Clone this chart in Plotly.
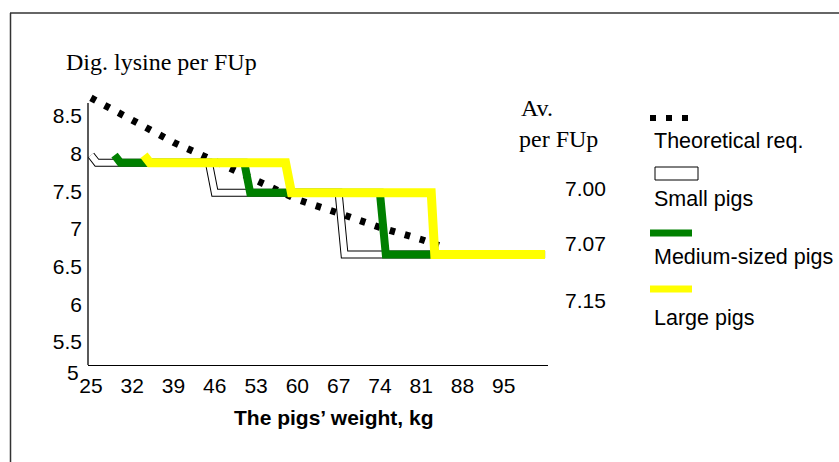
import plotly.graph_objects as go

# ---------------- data ----------------
theory_kg = [25, 32, 39, 46, 53, 60, 67, 74, 81, 84]
theory_val = [8.74, 8.44, 8.15, 7.90, 7.64, 7.39, 7.21, 7.02, 6.86, 6.78]

small_kg = [25, 26, 45, 46, 67, 68, 102]
small_val = [7.98, 7.88, 7.88, 7.48, 7.48, 6.66, 6.66]

medium_kg = [29, 30, 51, 52, 74, 75, 102]
medium_val = [7.98, 7.88, 7.88, 7.48, 7.48, 6.66, 6.66]

large_kg = [34, 35, 58, 59, 82.7, 83.3, 102]
large_val = [7.98, 7.88, 7.88, 7.48, 7.48, 6.66, 6.66]

x_ticks = [25, 32, 39, 46, 53, 60, 67, 74, 81, 88, 95]
y_ticks = [5.5, 6, 6.5, 7, 7.5, 8, 8.5]
y_ticktext = ["5.5", "6", "6.5", "7", "7.5", "8", "8.5"]

avg_labels = ["7.00", "7.07", "7.15"]
legend_names = ["Theoretical req.", "Small pigs", "Medium-sized pigs", "Large pigs"]

GREEN = "#008000"
YELLOW = "#FFFF00"
SANS = "Liberation Sans, Arial, sans-serif"
SERIF = "Liberation Serif, Times New Roman, serif"

# ---------------- layout geometry (pixels) ----------------
WIDTH, HEIGHT = 839, 462
L, R, T, B = 88, 548, 80, 365
PW, PH = R - L, B - T


def px(xp):
    return (xp - L) / PW


def py(yp):
    return (B - yp) / PH


fig = go.Figure()

# small pigs: white line with black outline
fig.add_trace(go.Scatter(x=small_kg, y=small_val, mode="lines",
                         line=dict(color="black", width=8), hoverinfo="skip"))
fig.add_trace(go.Scatter(x=small_kg, y=small_val, mode="lines",
                         line=dict(color="white", width=6), name=legend_names[1]))
# theoretical requirement: dotted
fig.add_trace(go.Scatter(x=theory_kg, y=theory_val, mode="lines",
                         line=dict(color="black", width=7, dash="5.5px,10.1px"),
                         name=legend_names[0]))
fig.add_trace(go.Scatter(x=medium_kg, y=medium_val, mode="lines",
                         line=dict(color=GREEN, width=8), name=legend_names[2]))
fig.add_trace(go.Scatter(x=large_kg, y=large_val, mode="lines",
                         line=dict(color=YELLOW, width=9), name=legend_names[3]))

shapes = []
# outer frame (top and left)
shapes.append(dict(type="line", xref="paper", yref="paper",
                   x0=px(10), x1=px(839), y0=py(13), y1=py(13),
                   line=dict(color="#333333", width=1.5)))
shapes.append(dict(type="line", xref="paper", yref="paper",
                   x0=px(10.5), x1=px(10.5), y0=py(13), y1=py(462),
                   line=dict(color="#333333", width=1.5)))
# y axis line
shapes.append(dict(type="line", xref="paper", yref="paper",
                   x0=0, x1=0, y0=py(103), y1=0,
                   line=dict(color="black", width=1.3)))
# legend symbols
for cx in (653, 669, 685):
    shapes.append(dict(type="rect", xref="paper", yref="paper",
                       x0=px(cx - 3), x1=px(cx + 3), y0=py(115), y1=py(121),
                       fillcolor="black", line=dict(width=0)))
shapes.append(dict(type="rect", xref="paper", yref="paper",
                   x0=px(655), x1=px(698), y0=py(167), y1=py(180),
                   fillcolor="white", line=dict(color="black", width=1)))
shapes.append(dict(type="line", xref="paper", yref="paper",
                   x0=px(650), x1=px(692), y0=py(233), y1=py(233),
                   line=dict(color=GREEN, width=7)))
shapes.append(dict(type="line", xref="paper", yref="paper",
                   x0=px(650), x1=px(692), y0=py(289), y1=py(289),
                   line=dict(color=YELLOW, width=7)))

annotations = []
annotations.append(dict(text="Dig. lysine per FUp", xref="paper", yref="paper",
                        x=px(64), y=py(62), xanchor="left", yanchor="middle",
                        showarrow=False, font=dict(family=SERIF, size=24, color="black")))
annotations.append(dict(text="Av.", xref="paper", yref="paper",
                        x=px(519), y=py(108), xanchor="left", yanchor="middle",
                        showarrow=False, font=dict(family=SERIF, size=24, color="black")))
annotations.append(dict(text="per FUp", xref="paper", yref="paper",
                        x=px(517), y=py(139), xanchor="left", yanchor="middle",
                        showarrow=False, font=dict(family=SERIF, size=24, color="black")))
for lab, yy in zip(avg_labels, [188, 243, 300]):
    annotations.append(dict(text=lab, xref="paper", yref="paper",
                            x=px(608), y=py(yy), xanchor="right", yanchor="middle",
                            showarrow=False, font=dict(family=SANS, size=21, color="black")))
for name, yy in zip(legend_names, [141, 199, 257, 318]):
    annotations.append(dict(text=name, xref="paper", yref="paper",
                            x=px(652), y=py(yy), xanchor="left", yanchor="middle",
                            showarrow=False, font=dict(family=SANS, size=21.5, color="black")))
annotations.append(dict(text="5", xref="paper", yref="paper",
                        x=px(73), y=py(372), xanchor="center", yanchor="middle",
                        showarrow=False, font=dict(family=SANS, size=21, color="black")))
annotations.append(dict(text="<b>The pigs’ weight, kg</b>", xref="paper", yref="paper",
                        x=px(334), y=py(417), xanchor="center", yanchor="middle",
                        showarrow=False, font=dict(family=SANS, size=21, color="black")))

fig.update_layout(
    width=WIDTH, height=HEIGHT,
    margin=dict(l=L, r=WIDTH - R, t=T, b=HEIGHT - B, pad=0),
    paper_bgcolor="white", plot_bgcolor="white",
    showlegend=False,
    shapes=shapes, annotations=annotations,
    xaxis=dict(range=[24.5, 102.5], tickvals=x_ticks, showgrid=False, zeroline=False,
               showline=True, linecolor="black", linewidth=1.3, ticks="",
               ticklabelstandoff=2,
               tickfont=dict(family=SANS, size=21, color="black")),
    yaxis=dict(range=[5.193, 8.978], tickvals=y_ticks, ticktext=y_ticktext,
               showgrid=False, zeroline=False, showline=False, ticks="",
               ticklabelstandoff=5,
               tickfont=dict(family=SANS, size=21, color="black")),
)

fig.write_html("out.html", config={"displayModeBar": False},
               post_script="document.body.style.margin='0';")
